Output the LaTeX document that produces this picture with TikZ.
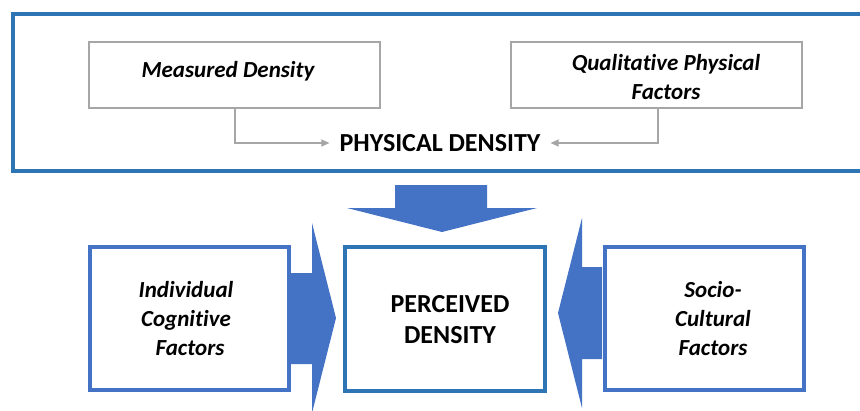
\documentclass[tikz,border=0pt]{standalone}
\usepackage{fontspec}
\setmainfont{Carlito}[Ligatures=NoCommon]
\usetikzlibrary{arrows.meta}
\definecolor{outerblue}{HTML}{2E75B6}
\definecolor{arrblue}{HTML}{4472C4}
\definecolor{graybox}{HTML}{A6A6A6}
\tikzset{
  graynode/.style={draw=graybox, line width=2pt, minimum width=291pt, minimum height=66pt, inner sep=0pt},
  bluenode/.style={draw=arrblue, line width=4pt, minimum width=199pt, minimum height=143pt, inner sep=0pt},
  lbl/.style={font=\fontsize{23}{29}\selectfont\bfseries\itshape, align=center, inner sep=0pt},
  caps/.style={font=\fontsize{26}{31}\selectfont\bfseries, align=center, inner sep=0pt},
  conn/.style={draw=graybox, line width=1.2pt, -{Triangle[length=8pt,width=7pt]}},
  blockarrow/.style={fill=arrblue, draw=none}
}
\begin{document}
\begin{tikzpicture}[x=1pt,y=-1pt]
\useasboundingbox (0,0) rectangle (860,410);
\fill[white] (0,0) rectangle (860,410);
\begin{scope}
\clip (0,0) rectangle (860,410);
\draw[outerblue, line width=4pt] (13,13.5) rectangle (880,170.5);
\end{scope}
% top boxes
\node[graynode] (md) at (234.5,75) {};
\node[lbl] (mdt) at (228,71) {Measured Density};
\node[graynode] (qp) at (656.5,75) {};
\node[lbl] (qpt) at (666,77.5) {Qualitative Physical\\Factors};
\node[caps] (pd) at (440,143) {PHYSICAL DENSITY};
\draw[conn] (md.south -| 235,0) |- ([xshift=-10pt]pd.west);
\draw[conn] (qp.south -| 658,0) |- ([xshift=10pt]pd.east);
% bottom boxes
\node[bluenode] (ic) at (189.5,318.5) {};
\node[lbl] (ict) at (186,319) {Individual\\Cognitive\\\hspace*{8pt}Factors};
\node[bluenode, draw=outerblue, minimum width=200pt, minimum height=144pt] (pc) at (445,319) {};
\node[caps] (pct) at (450,319.5) {PERCEIVED\\DENSITY};
\node[bluenode] (sc) at (704,318.5) {};
\node[lbl] (sct) at (713,319) {Socio-\\Cultural\\Factors};
% block arrows
\fill[blockarrow] (395,185) -- (487,185) -- (487,208) -- (537,208) -- (442,232) -- (347,208) -- (395,208) -- cycle;
\fill[blockarrow] (291,273) -- (312,273) -- (312,223) -- (336,318) -- (312,413) -- (312,364) -- (291,364) -- cycle;
\fill[blockarrow] (602,267) -- (582,267) -- (582,218) -- (558,313) -- (582,408) -- (582,359) -- (602,359) -- cycle;
\end{tikzpicture}
\end{document}
